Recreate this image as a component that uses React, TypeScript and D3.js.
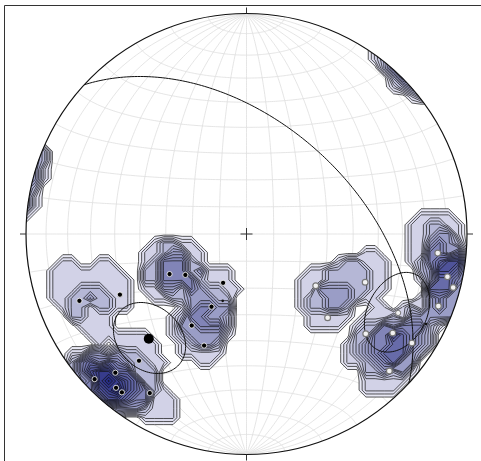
import React, { useMemo } from "react";
import * as d3 from "d3";

const W = 481;
const H = 461;
const CX = 246.5;
const CY = 234;
const R = 220.5;

// Poles drawn as black dots (plunge, bearing in degrees)
const blackPlunge = [19.5, 36.5, 57.7, 62.7, 70, 60, 50, 45, 25.6, 5.3, 14.5, 9.4, 9.5, 16.7];
const blackBearing = [248.2, 244.4, 242.5, 236.2, 205.6, 205.7, 210.9, 200.8, 220.3, 226.3, 223.4, 220.3, 218.2, 211.3];
// Poles drawn as small dark dots
const tinyPlunge = [63.7, 9.8];
const tinyBearing = [199.6, 116.6];
// Poles drawn as white dots
const whitePlunge = [57.8, 41.5, 46.1, 13.9, 7.6, 3.6, 7.8, 30.2, 21.0, 11.1, 11.2];
const whiteBearing = [126.8, 112.1, 135.9, 95.7, 102, 104.5, 110.6, 129.9, 124.1, 123.4, 133.8];
// Measurements used for the Kamb density contours (plunge, bearing)
const densityPlunge = [
  16.3, 33.2, 22.6,
  57.5, 63.2, 60.4, 56.1,
  65.6, 59.3, 51.4, 46.4, 54.1,
  27.2, 8.6, 11.0, 10.5, 13.0, 14.0, 6.8, 18.2, 3.0, 4.0,
  55.0, 48.1, 48.3, 42.5,
  27.6, 18.5, 19.2, 11.4, 11.3, 25.7,
  10.8, 9.0, 3.0, 5.0, 11.0, 11.0, 18.7, 12.1, 7.2,
];
const densityBearing = [
  252.6, 249.1, 243.2,
  249.2, 247.2, 236.5, 239.6,
  211.6, 206.3, 208.1, 203.7, 203.6,
  221.9, 224.1, 220.4, 217.6, 224.7, 210.2, 227.1, 219.6, 225, 223,
  126.5, 131.5, 117.4, 110.5,
  127.3, 123.7, 129.9, 126.7, 134.3, 131.9,
  93.2, 98.7, 103.7, 105.0, 115.6, 123.4, 93.5, 99.1, 105.8,
];
// Cones (mean poles) and plane
const conePlunge = [35.3, 23.5];
const coneBearing = [223, 117.5];
const coneAngle = [13, 13];
const coneMarker = ["big", "white"];
const planeStrike = [312.6];
const planeDip = [49];
const kambAngle = 9.5;

const rad = Math.PI / 180;
type V = [number, number, number];
const vec = (p: number, b: number): V => [
  Math.cos(p * rad) * Math.sin(b * rad),
  Math.cos(p * rad) * Math.cos(b * rad),
  Math.sin(p * rad),
];
const dot = (a: V, b: V) => a[0] * b[0] + a[1] * b[1] + a[2] * b[2];
const cross = (a: V, b: V): V => [
  a[1] * b[2] - a[2] * b[1],
  a[2] * b[0] - a[0] * b[2],
  a[0] * b[1] - a[1] * b[0],
];
const norm = (a: V): V => {
  const l = Math.hypot(a[0], a[1], a[2]);
  return [a[0] / l, a[1] / l, a[2] / l];
};

const sx = d3.scaleLinear().domain([-1, 1]).range([CX - R, CX + R]);
const sy = d3.scaleLinear().domain([-1, 1]).range([CY + R, CY - R]);

function proj(v: V): [number, number] {
  let [e, n, d] = v;
  if (d < 0) {
    e = -e;
    n = -n;
    d = -d;
  }
  const f = Math.sqrt(1 + d);
  return [sx(e / f), sy(n / f)];
}

export default function App() {
  const built = useMemo(() => {
    const line = d3.line<[number, number]>().x((d) => d[0]).y((d) => d[1]);
    // grid
    const grid: string[] = [];
    for (let lon = -80; lon <= 80; lon += 10) {
      const pts: [number, number][] = [];
      for (let lat = -90; lat <= 90; lat += 1) {
        const v: V = [
          Math.cos(lat * rad) * Math.sin(lon * rad),
          Math.sin(lat * rad),
          Math.cos(lat * rad) * Math.cos(lon * rad),
        ];
        pts.push(proj(v));
      }
      grid.push(line(pts) as string);
    }
    for (let lat = -80; lat <= 80; lat += 10) {
      const pts: [number, number][] = [];
      for (let lon = -90; lon <= 90; lon += 1) {
        const v: V = [
          Math.cos(lat * rad) * Math.sin(lon * rad),
          Math.sin(lat * rad),
          Math.cos(lat * rad) * Math.cos(lon * rad),
        ];
        pts.push(proj(v));
      }
      grid.push(line(pts) as string);
    }

    // density (Kamb count)
    const data: V[] = densityPlunge.map((p, i) => vec(p, densityBearing[i]));
    const M = 48;
    const N = M + 1;
    const step = 2 / M;
    const cosA = Math.cos(kambAngle * rad);
    const values = new Array(N * N).fill(0);
    for (let j = 0; j < N; j++) {
      for (let i = 0; i < N; i++) {
        let X = -1 + i * step;
        let Y = 1 - j * step;
        let rho = Math.hypot(X, Y);
        if (rho > 1) {
          X /= rho;
          Y /= rho;
          rho = 1;
        }
        const d = 1 - rho * rho;
        const f = Math.sqrt(1 + d);
        const v: V = [X * f, Y * f, d];
        let c = 0;
        for (const q of data) if (Math.abs(dot(v, q)) >= cosA) c++;
        values[j * N + i] = c;
      }
    }
    const maxC = d3.max(values) as number;
    const thresholds: number[] = [];
    for (let k = 1; k / 3 - 0.08 < maxC; k++) thresholds.push(k / 3 - 0.08);
    const contours = d3.contours().size([N, N]).thresholds(thresholds)(values);
    const gx = d3.scaleLinear().domain([0.5, M + 0.5]).range([-1, 1]);
    const gy = d3.scaleLinear().domain([0.5, M + 0.5]).range([1, -1]);
    const tr = d3.geoTransform({
      point(x: number, y: number) {
        (this as any).stream.point(sx(gx(x)), sy(gy(y)));
      },
    });
    const gp = d3.geoPath(tr);
    const color = d3.interpolateRgb("#e8e8f4", "#1f257e");
    const nL = thresholds.length;
    const cpaths = contours.map((c, k) => ({
      d: gp(c as any) as string,
      fill: color(Math.pow(k / Math.max(1, nL - 1), 0.9)),
    }));

    // plane
    const planes = planeStrike.map((st, i) => {
      const s: V = [Math.sin(st * rad), Math.cos(st * rad), 0];
      const dd = vec(planeDip[i], st + 90);
      const pts: [number, number][] = [];
      for (let t = 0; t <= 180; t += 1) {
        const c = Math.cos(t * rad);
        const sn = Math.sin(t * rad);
        pts.push(proj([c * s[0] + sn * dd[0], c * s[1] + sn * dd[1], c * s[2] + sn * dd[2]]));
      }
      return line(pts) as string;
    });

    // cones
    const cones = conePlunge.map((p, i) => {
      const a = vec(p, coneBearing[i]);
      const u = norm(cross(a, [0, 0, 1]));
      const w = cross(a, u);
      const al = coneAngle[i] * rad;
      const pts: [number, number][] = [];
      for (let t = 0; t <= 360; t += 3) {
        const c = Math.cos(t * rad);
        const sn = Math.sin(t * rad);
        const v: V = [
          Math.cos(al) * a[0] + Math.sin(al) * (c * u[0] + sn * w[0]),
          Math.cos(al) * a[1] + Math.sin(al) * (c * u[1] + sn * w[1]),
          Math.cos(al) * a[2] + Math.sin(al) * (c * u[2] + sn * w[2]),
        ];
        pts.push(proj(v));
      }
      return { d: line(pts) as string, c: proj(a), marker: coneMarker[i] };
    });

    const black = blackPlunge.map((p, i) => proj(vec(p, blackBearing[i])));
    const tiny = tinyPlunge.map((p, i) => proj(vec(p, tinyBearing[i])));
    const white = whitePlunge.map((p, i) => proj(vec(p, whiteBearing[i])));
    return { grid, cpaths, planes, cones, black, tiny, white };
  }, []);

  return (
    <svg width={W} height={H} style={{ position: "fixed", left: 0, top: 0, background: "#fff" }}>
      <defs>
        <clipPath id="net">
          <circle cx={CX} cy={CY} r={R} />
        </clipPath>
      </defs>
      <rect x={0} y={0} width={W} height={H} fill="#fff" />
      <path d={`M4.5,${H} V5.5 H${W}`} fill="none" stroke="#333" strokeWidth={1} />
      <g clipPath="url(#net)">
        {built.grid.map((d, i) => (
          <path key={i} d={d} fill="none" stroke="#dedede" strokeWidth={0.8} />
        ))}
        {built.cpaths.map((c, i) => (
          <path key={i} d={c.d} fill={c.fill} stroke="#111" strokeWidth={0.7} strokeLinejoin="round" />
        ))}
        {built.planes.map((d, i) => (
          <path key={i} d={d} fill="none" stroke="#111" strokeWidth={1} />
        ))}
        {built.cones.map((c, i) => (
          <path key={i} d={c.d} fill="none" stroke="#111" strokeWidth={1} />
        ))}
      </g>
      <circle cx={CX} cy={CY} r={R} fill="none" stroke="#111" strokeWidth={1.2} />
      {[0, 90, 180, 270].map((a) => {
        const s = Math.sin(a * rad);
        const c = Math.cos(a * rad);
        return (
          <line key={a} x1={CX + s * R} y1={CY - c * R} x2={CX + s * (R + 6)} y2={CY - c * (R + 6)} stroke="#333" strokeWidth={1} />
        );
      })}
      <line x1={CX - 6} y1={CY} x2={CX + 6} y2={CY} stroke="#333" strokeWidth={1} />
      <line x1={CX} y1={CY - 6} x2={CX} y2={CY + 6} stroke="#333" strokeWidth={1} />
      {built.black.map((p, i) => (
        <circle key={i} cx={p[0]} cy={p[1]} r={2.6} fill="#000" stroke="#fff" strokeWidth={0.8} />
      ))}
      {built.tiny.map((p, i) => (
        <circle key={i} cx={p[0]} cy={p[1]} r={1.3} fill="#111" />
      ))}
      {built.white.map((p, i) => (
        <circle key={i} cx={p[0]} cy={p[1]} r={2.9} fill="#f2f2f2" stroke="#777" strokeWidth={1.2} />
      ))}
      {built.cones.map((c, i) =>
        c.marker === "big" ? (
          <circle key={i} cx={c.c[0]} cy={c.c[1]} r={5} fill="#000" />
        ) : (
          <circle key={i} cx={c.c[0]} cy={c.c[1]} r={2.6} fill="#f2f2f2" stroke="#777" strokeWidth={1} />
        )
      )}
    </svg>
  );
}
